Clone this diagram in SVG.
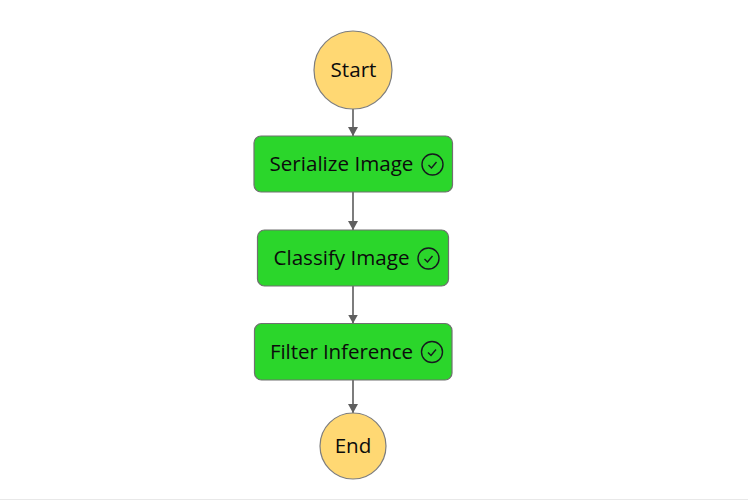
<svg xmlns="http://www.w3.org/2000/svg" width="748" height="500" viewBox="0 0 748 500">
<style>
text{font-family:"Open Sans","Noto Sans",sans-serif;font-size:20.600px;fill:#0b0b0b}
.t{fill:#ffd873;stroke:#7d7d7d;stroke-width:1.200}
.s{fill:#2bd62b;stroke:#707070;stroke-width:1.200}
.c{fill:none;stroke:#16191f;stroke-width:1.400}
.e{fill:none;stroke:#666;stroke-width:1.700}
</style>
<defs><marker id="a" markerWidth="12" markerHeight="12" refX="9" refY="5" orient="auto" markerUnits="userSpaceOnUse"><path d="M0 0L9 5L0 10Z" fill="#5f5f5f"/></marker></defs>
<rect width="748" height="500" fill="#fff"/>
<path d="M0 499.500H748" stroke="#e8e8e8"/>
<g id="connectors">
<path class="e" marker-end="url(#a)" d="M353 109V136"/>
<path class="e" marker-end="url(#a)" d="M353 192V230"/>
<path class="e" marker-end="url(#a)" d="M353 286V323.500"/>
<path class="e" marker-end="url(#a)" d="M353 380V413"/>
</g>
<g id="start"><circle class="t" cx="353" cy="70" r="39"/><text x="353.500" y="77" text-anchor="middle">Start</text></g>
<g id="serialize"><rect class="s" x="254" y="136" width="198.500" height="56" rx="7"/><text x="269.500" y="171">Serialize Image</text><circle class="c" cx="432.500" cy="164.500" r="10.500"/><path class="c" d="M428.500 165L431.500 168L436.500 162"/></g>
<g id="classify"><rect class="s" x="257.500" y="230" width="191" height="56" rx="7"/><text x="273.500" y="265">Classify Image</text><circle class="c" cx="428.500" cy="258.500" r="10.500"/><path class="c" d="M424.500 259L427.500 262L432.500 256"/></g>
<g id="filter"><rect class="s" x="254.500" y="323.500" width="197.500" height="56.500" rx="7"/><text x="270" y="359" textLength="143">Filter Inference</text><circle class="c" cx="432" cy="352" r="10.500"/><path class="c" d="M428 352.500L431 355.500L436 349.500"/></g>
<g id="end"><circle class="t" cx="353" cy="446" r="33"/><text x="353" y="453" text-anchor="middle">End</text></g>
</svg>
